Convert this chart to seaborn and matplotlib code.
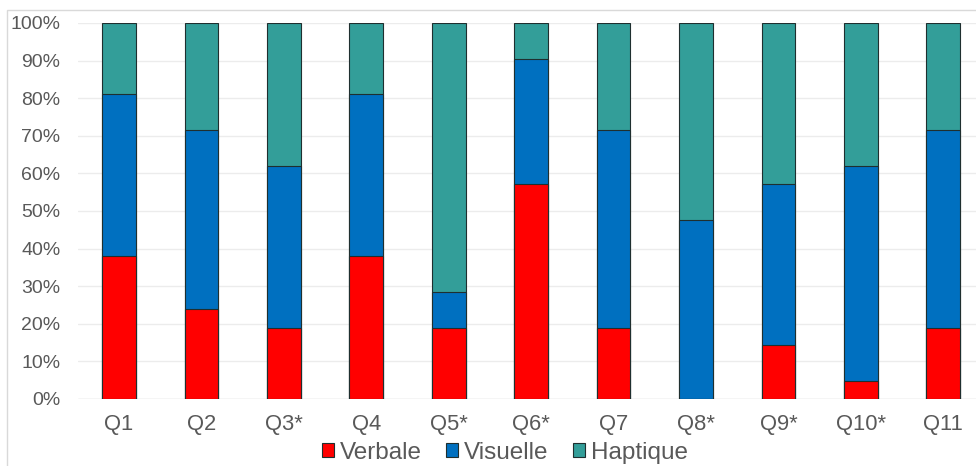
import matplotlib.pyplot as plt
import seaborn as sns
import numpy as np
from matplotlib.patches import Rectangle
from matplotlib.ticker import PercentFormatter

questions = ['Q1', 'Q2', 'Q3*', 'Q4', 'Q5*', 'Q6*', 'Q7', 'Q8*', 'Q9*', 'Q10*', 'Q11']
verbale = [38.1, 23.8, 19.0, 38.1, 19.0, 57.1, 19.0, 0.0, 14.3, 4.8, 19.0]
visuelle = [42.9, 47.6, 42.9, 42.9, 9.5, 33.3, 52.4, 47.6, 42.9, 57.1, 52.4]
haptique = [19.0, 28.6, 38.1, 19.0, 71.4, 9.6, 28.6, 52.4, 42.8, 38.1, 28.6]

colors = {'Verbale': '#FF0000', 'Visuelle': '#0070C0', 'Haptique': '#339E99'}
grey = '#595959'

sns.set_style('white')
plt.rcParams['font.family'] = ['Liberation Sans', 'DejaVu Sans']

fig = plt.figure(figsize=(9.76, 4.66), dpi=100)
ax = fig.add_axes([0.0797, 0.1438, 0.929, 0.807])

v = np.array(verbale)
vi = np.array(visuelle)
h = np.array(haptique)
tops = [('Haptique', v + vi + h), ('Visuelle', v + vi), ('Verbale', v)]
for name, vals in tops:
    sns.barplot(x=questions, y=vals, color=colors[name], width=0.41,
                edgecolor='#1f2f2f', linewidth=0.8, saturation=1, ax=ax, zorder=3)

ax.set_ylim(0, 100)
ax.set_xlim(-0.5, len(questions) - 0.5)
ax.set_yticks(np.arange(0, 101, 10))
ax.yaxis.set_major_formatter(PercentFormatter(decimals=0))
ax.grid(axis='y', color='#ececec', linewidth=1, zorder=0)
ax.set_axisbelow(True)
sns.despine(ax=ax, left=True, bottom=True, top=True, right=True)
ax.axhline(0, color='#e0e0e0', linewidth=1, zorder=1)
ax.tick_params(axis='y', labelsize=14, labelcolor=grey, length=0, pad=12.5)
ax.tick_params(axis='x', labelsize=15.8, labelcolor=grey, length=0, pad=11)
ax.set_xlabel('')
ax.set_ylabel('')

handles = [Rectangle((0, 0), 1, 1, facecolor=colors[n], edgecolor='#1f2f2f', linewidth=0.8)
           for n in ['Verbale', 'Visuelle', 'Haptique']]
fig.legend(handles, ['Verbale', 'Visuelle', 'Haptique'], loc='center',
           bbox_to_anchor=(505 / 976, 1 - 453 / 466), ncol=3, frameon=False,
           fontsize=17.5, labelcolor=grey, handlelength=0.5, handleheight=0.5,
           handletextpad=0.25, columnspacing=1.0, borderpad=0)

frame = Rectangle((7 / 976, -0.1), 1.2, 1 - 10 / 466 + 0.1, transform=fig.transFigure,
                  fill=False, edgecolor='#d9d9d9', linewidth=1)
fig.patches.append(frame)

fig.savefig('out.png', dpi=100)
